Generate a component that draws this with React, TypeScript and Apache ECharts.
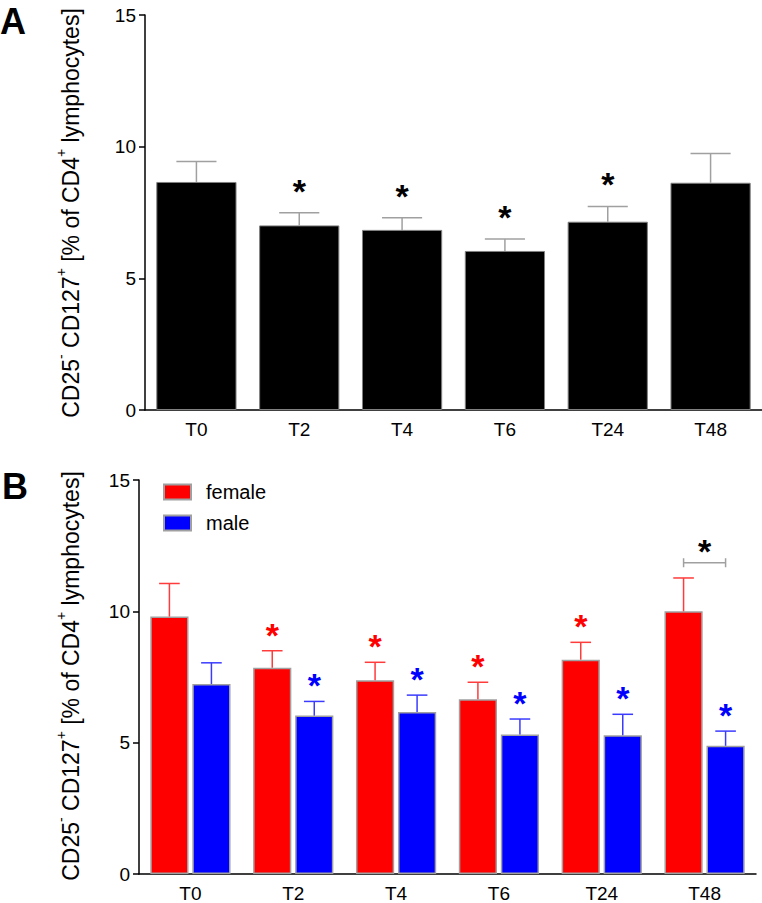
import React, { useEffect, useRef } from "react";
import * as echarts from "echarts";

const FONT = "Liberation Sans, Arial, Helvetica, sans-serif";

const categories = ["T0", "T2", "T4", "T6", "T24", "T48"];
const yTicks = { min: 0, max: 15, interval: 5 };

// Panel A: all subjects
const allMean = [8.66, 7.01, 6.84, 6.04, 7.15, 8.63];
const allSem = [0.78, 0.48, 0.46, 0.45, 0.58, 1.11];
const allSig = [0, 1, 1, 1, 1, 0];

// Panel B: by sex
const femaleMean = [9.8, 7.85, 7.38, 6.65, 8.16, 10.0];
const femaleSem = [1.26, 0.65, 0.68, 0.65, 0.66, 1.27];
const femaleSig = [0, 1, 1, 1, 1, 0];
const maleMean = [7.23, 6.03, 6.17, 5.31, 5.28, 4.88];
const maleSem = [0.81, 0.54, 0.64, 0.59, 0.8, 0.56];
const maleSig = [0, 1, 1, 1, 1, 1];

// female vs male comparison bracket
const bracketCats = [5];
const bracketLevel = [11.85];

const CAT_GAP = 0.22;
const BAR_GAP = 0.1;
const STAR_SIZE = 34;

function errRender(
  color: string,
  starColor: string,
  grouped: number,
  starGap: number
) {
  return (params: any, api: any) => {
    const i = api.value(0);
    const base = api.coord([i, api.value(1)]);
    const top = api.coord([i, api.value(2)]);
    const sig = api.value(3);
    const catW = api.size([1, 0])[0];
    let barW: number;
    let off = 0;
    let capHalf: number;
    if (grouped === 0) {
      barW = catW * (1 - CAT_GAP);
      capHalf = barW / 4;
    } else {
      barW = (catW * (1 - CAT_GAP)) / (2 + BAR_GAP);
      off = grouped * barW * (0.5 + BAR_GAP / 2);
      capHalf = barW * 0.27;
    }
    const x = base[0] + off;
    const children: any[] = [
      {
        type: "line",
        shape: { x1: x, y1: base[1], x2: x, y2: top[1] },
        style: { stroke: color, lineWidth: 1.5 },
      },
      {
        type: "line",
        shape: { x1: x - capHalf, y1: top[1], x2: x + capHalf, y2: top[1] },
        style: { stroke: color, lineWidth: 1.5 },
      },
    ];
    if (sig) {
      children.push({
        type: "text",
        x,
        y: top[1] - starGap,
        style: {
          text: "*",
          fill: starColor,
          fontSize: STAR_SIZE,
          fontWeight: "bold",
          fontFamily: FONT,
          align: "center",
          verticalAlign: "middle",
        },
      });
    }
    return { type: "group", children };
  };
}

function bracketRender(params: any, api: any) {
  const c = api.coord([api.value(0), api.value(1)]);
  const catW = api.size([1, 0])[0];
  const barW = (catW * (1 - CAT_GAP)) / (2 + BAR_GAP);
  const d = barW * (0.5 + BAR_GAP / 2);
  const x1 = c[0] - d;
  const x2 = c[0] + d;
  const y = c[1];
  const st = { stroke: "#a0a0a0", lineWidth: 1.5 };
  return {
    type: "group",
    children: [
      { type: "line", shape: { x1, y1: y, x2, y2: y }, style: st },
      { type: "line", shape: { x1, y1: y - 4.5, x2: x1, y2: y + 4.5 }, style: st },
      { type: "line", shape: { x1: x2, y1: y - 4.5, x2, y2: y + 4.5 }, style: st },
      {
        type: "text",
        x: c[0],
        y: y - 12,
        style: {
          text: "*",
          fill: "#000",
          fontSize: STAR_SIZE,
          fontWeight: "bold",
          fontFamily: FONT,
          align: "center",
          verticalAlign: "middle",
        },
      },
    ],
  };
}

function rows(mean: number[], sem: number[], sig: number[]) {
  return mean.map((m, i) => [i, m, m + sem[i], sig[i]]);
}

function xAxisCfg(gridIndex: number) {
  return {
    gridIndex,
    type: "category",
    data: categories,
    axisLine: { lineStyle: { color: "#000", width: 1.5 } },
    axisTick: { alignWithLabel: true, length: 6, lineStyle: { color: "#000", width: 1.5 } },
    axisLabel: { color: "#000", fontSize: 19, margin: 10, fontFamily: FONT },
  };
}

function yAxisCfg(gridIndex: number) {
  return {
    gridIndex,
    type: "value",
    min: yTicks.min,
    max: yTicks.max,
    interval: yTicks.interval,
    axisLine: { show: true, lineStyle: { color: "#000", width: 1.5 } },
    axisTick: { show: true, length: 6, lineStyle: { color: "#000", width: 1.5 } },
    splitLine: { show: false },
    axisLabel: { color: "#000", fontSize: 19, margin: 9, fontFamily: FONT },
  };
}

const titleRich = {
  n: { fontSize: 23, fontFamily: FONT, fill: "#000", lineHeight: 29, verticalAlign: "bottom" },
  s: { fontSize: 14, fontFamily: FONT, fill: "#000", lineHeight: 14, verticalAlign: "top" },
};
const titleText =
  "{n|CD25}{s|-}{n| CD127}{s|+}{n| [% of CD4}{s|+}{n| lymphocytes]}";

export default function App() {
  const ref = useRef<HTMLDivElement>(null);
  useEffect(() => {
    if (!ref.current) return;
    const chart = echarts.init(ref.current, undefined, { renderer: "svg" });
    chart.setOption({
      animation: false,
      textStyle: { fontFamily: FONT },
      grid: [
        { left: 145, right: 0, top: 15, bottom: 493 },
        { left: 139, right: 6, top: 480, bottom: 27 },
      ],
      xAxis: [xAxisCfg(0), xAxisCfg(1)],
      yAxis: [yAxisCfg(0), yAxisCfg(1)],
      legend: {
        data: ["female", "male"],
        orient: "vertical",
        left: 163,
        top: 482,
        padding: 0,
        itemWidth: 27,
        itemHeight: 15,
        itemGap: 11,
        icon: "rect",
        selectedMode: false,
        textStyle: { fontSize: 20, color: "#000", fontFamily: FONT, padding: [0, 0, 0, 10] },
      },
      graphic: [
        {
          type: "text",
          x: 0,
          y: 3,
          style: { text: "A", fontSize: 36, fontWeight: "bold", fill: "#000", fontFamily: FONT },
        },
        {
          type: "text",
          x: 2,
          y: 468,
          style: { text: "B", fontSize: 36, fontWeight: "bold", fill: "#000", fontFamily: FONT },
        },
        {
          type: "text",
          x: 68,
          y: 213,
          rotation: Math.PI / 2,
          style: { text: titleText, rich: titleRich, align: "center", verticalAlign: "middle" },
        },
        {
          type: "text",
          x: 68,
          y: 676,
          rotation: Math.PI / 2,
          style: { text: titleText, rich: titleRich, align: "center", verticalAlign: "middle" },
        },
      ],
      series: [
        {
          name: "all",
          type: "bar",
          xAxisIndex: 0,
          yAxisIndex: 0,
          data: allMean,
          barCategoryGap: "22%",
          itemStyle: { color: "#000", borderColor: "#808080", borderWidth: 1 },
        },
        {
          name: "female",
          type: "bar",
          xAxisIndex: 1,
          yAxisIndex: 1,
          data: femaleMean,
          barGap: "10%",
          barCategoryGap: "22%",
          itemStyle: { color: "#ff0000", borderColor: "#a0a0a0", borderWidth: 1.5 },
        },
        {
          name: "male",
          type: "bar",
          xAxisIndex: 1,
          yAxisIndex: 1,
          data: maleMean,
          barGap: "10%",
          barCategoryGap: "22%",
          itemStyle: { color: "#0000ff", borderColor: "#a0a0a0", borderWidth: 1.5 },
        },
        {
          type: "custom",
          xAxisIndex: 0,
          yAxisIndex: 0,
          z: 5,
          data: rows(allMean, allSem, allSig),
          encode: { x: 0, y: [1, 2] },
          renderItem: errRender("#a0a0a0", "#000", 0, 22),
        },
        {
          type: "custom",
          xAxisIndex: 1,
          yAxisIndex: 1,
          z: 5,
          data: rows(femaleMean, femaleSem, femaleSig),
          encode: { x: 0, y: [1, 2] },
          renderItem: errRender("#ff3b3b", "#ff0000", -1, 16),
        },
        {
          type: "custom",
          xAxisIndex: 1,
          yAxisIndex: 1,
          z: 5,
          data: rows(maleMean, maleSem, maleSig),
          encode: { x: 0, y: [1, 2] },
          renderItem: errRender("#3b3bff", "#0000ff", 1, 16),
        },
        {
          type: "custom",
          xAxisIndex: 1,
          yAxisIndex: 1,
          z: 5,
          data: bracketCats.map((c, i) => [c, bracketLevel[i]]),
          encode: { x: 0, y: 1 },
          renderItem: bracketRender,
        },
      ],
    });
    return () => chart.dispose();
  }, []);
  return (
    <div
      ref={ref}
      style={{ position: "absolute", left: 0, top: 0, width: 762, height: 903 }}
    />
  );
}
